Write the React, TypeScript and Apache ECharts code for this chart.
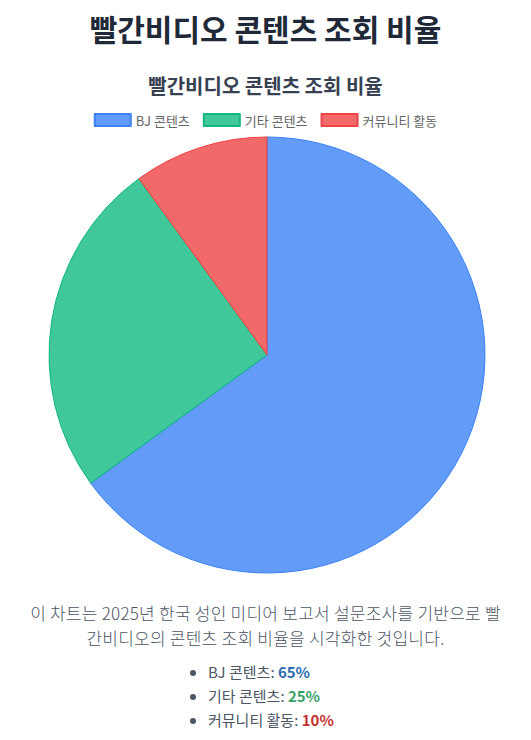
import { useEffect, useRef } from 'react'
import * as echarts from 'echarts'

const PAGE_TITLE = '빨간비디오 콘텐츠 조회 비율'
const CHART_TITLE = '빨간비디오 콘텐츠 조회 비율'
const categories = ['BJ 콘텐츠', '기타 콘텐츠', '커뮤니티 활동']
const values = [65, 25, 10]
const fills = ['rgba(59,130,246,0.8)', 'rgba(16,185,129,0.8)', 'rgba(239,68,68,0.8)']
const borders = ['#3b82f6', '#10b981', '#ef4444']
const valueColors = ['#2b6cb0', '#38a169', '#c53030']
const DESC_1 = '이 차트는 2025년 한국 성인 미디어 보고서 설문조사를 기반으로 빨'
const DESC_2 = '간비디오의 콘텐츠 조회 비율을 시각화한 것입니다.'

const FONT = '"Noto Sans CJK KR", "Noto Sans", sans-serif'

export default function App() {
  const chartRef = useRef<HTMLDivElement>(null)

  useEffect(() => {
    if (!chartRef.current) return
    const chart = echarts.init(chartRef.current, undefined, { renderer: 'svg' })
    chart.setOption({
      animation: false,
      textStyle: { fontFamily: FONT },
      title: {
        text: CHART_TITLE, left: 'center', top: 10,
        textStyle: { fontSize: 20, fontWeight: 'bold', color: '#374151', fontFamily: FONT },
      },
      legend: {
        top: 48, left: 'center', itemWidth: 36, itemHeight: 12, itemGap: 13,
        icon: 'rect',
        textStyle: { fontSize: 13, color: '#666', fontFamily: FONT },
        data: categories,
      },
      series: [{
        type: 'pie', center: [267, 295], radius: 218, startAngle: 90, clockwise: true,
        label: { show: false }, labelLine: { show: false },
        emphasis: { disabled: true },
        data: categories.map((name, i) => ({
          name, value: values[i],
          itemStyle: { color: fills[i], borderColor: borders[i], borderWidth: 1 },
        })),
      }],
    })
    return () => chart.dispose()
  }, [])

  return (
    <div style={{ position: 'absolute', left: 0, top: 0, width: 531, height: 740, background: '#fff', fontFamily: FONT }}>
      <div style={{ position: 'absolute', top: 10, left: 0, width: 531, textAlign: 'center', fontSize: 30, fontWeight: 'bold', lineHeight: '36px', color: '#1f2937' }}>
        {PAGE_TITLE}
      </div>
      <div ref={chartRef} style={{ position: 'absolute', top: 60, left: 0, width: 531, height: 530 }} />
      <div style={{ position: 'absolute', top: 600, left: 0, width: 531, textAlign: 'center', fontSize: 17, lineHeight: '25px', letterSpacing: '0.25px', color: '#4b5563', fontWeight: 300, whiteSpace: 'nowrap' }}>
        {DESC_1}<br />{DESC_2}
      </div>
      <ul style={{ position: 'absolute', top: 660, left: 188, margin: 0, paddingLeft: 20, fontSize: 15, lineHeight: '24px', color: '#4b5563' }}>
        {categories.map((c, i) => (
          <li key={c}>{c}: <span style={{ fontWeight: 'bold', color: valueColors[i] }}>{values[i]}%</span></li>
        ))}
      </ul>
    </div>
  )
}
